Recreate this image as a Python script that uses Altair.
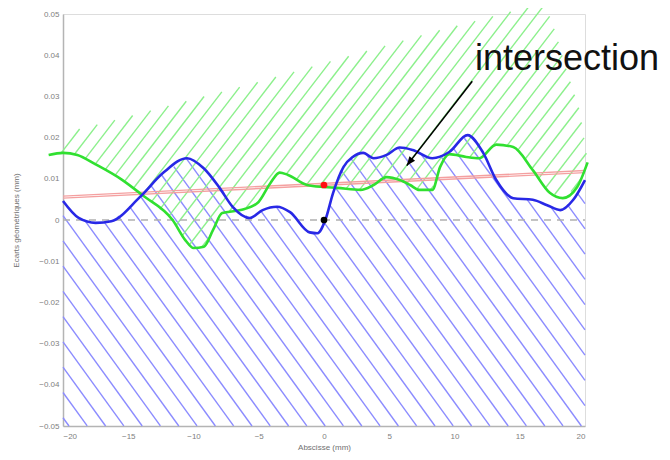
import altair as alt
import numpy as np
import pandas as pd

# ---------------- data ----------------
blue_x = [-20, -18.8, -17.5, -16.3, -14.1, -12.3, -10.5, -9.2, -8.0, -7.0, -5.7, -4.7,
          -3.6, -2.6, -1.1, -0.5, 0.1, 0.7, 1.5, 2.2, 3.0, 3.8, 4.8, 5.8, 6.8, 8.3,
          9.6, 11.0, 12.2, 13.2, 14.5, 16.0, 17.1, 18.1, 19.1, 20.0]
blue_y = [0.0046, 0.0005, -0.0007, -0.0003, 0.0056, 0.0115, 0.0150, 0.0125, 0.0078, 0.0032,
          0.0005, 0.0024, 0.0032, 0.0019, -0.0030, -0.0032, 0.0000, 0.0066, 0.0129, 0.0153,
          0.0163, 0.0150, 0.0158, 0.0176, 0.0170, 0.0150, 0.0165, 0.0206, 0.0163, 0.0097,
          0.0053, 0.0049, 0.0036, 0.0024, 0.0049, 0.0097]

green_x = [-21.1, -20.0, -18.9, -17.5, -15.5, -13.9, -11.6, -10.6, -10.0, -9.2, -8.5, -7.8,
           -6.4, -5.1, -4.1, -3.4, -2.8, -1.3, 0.0, 1.0, 2.8, 3.8, 4.8, 5.8, 6.6, 7.3, 8.3,
           8.9, 9.6, 10.9, 11.9, 13.2, 14.5, 16.0, 17.3, 18.3, 19.4, 20.2]
green_y = [0.0158, 0.0163, 0.0158, 0.0135, 0.0098, 0.0060, 0.0000, -0.0050, -0.0068, -0.0065,
           -0.0024, 0.0017, 0.0024, 0.0041, 0.0090, 0.0115, 0.0110, 0.0085, 0.0080, 0.0078,
           0.0073, 0.0085, 0.0104, 0.0097, 0.0085, 0.0073, 0.0073, 0.0129, 0.0160, 0.0153,
           0.0150, 0.0183, 0.0177, 0.0121, 0.0066, 0.0053, 0.0080, 0.0140]

# upper edge of the green hatched zone
green_top_x = [-21.1, -20.0, -16.0, -6.4, 8.9, 16.9, 17.7, 18.6, 19.6, 20.2]
green_top_y = [0.0158, 0.0211, 0.0243, 0.0323, 0.0461, 0.0527, 0.0461, 0.0364, 0.0267, 0.0146]

red_x = [-20, 20]
red_y_a = [0.0053, 0.0115]
red_y_b = [0.0058, 0.0120]

zero_x = [-20, 20]
zero_y = [0.0, 0.0]

dot_x = [0.0, 0.0]
dot_y = [0.0085, 0.0]
dot_color = ["#ff1010", "#000000"]

arrow_x = [11.36, 6.34]
arrow_y = [0.0337, 0.0132]

label_text = ["intersection"]
label_x = [11.57]
label_y = [0.0364]

x_ticks = [-20, -15, -10, -5, 0, 5, 10, 15, 20]
y_ticks = [-0.05, -0.04, -0.03, -0.02, -0.01, 0, 0.01, 0.02, 0.03, 0.04, 0.05]

# ---------------- geometry helpers ----------------
W, H = 522, 412
XD = [-20, 20]
YD = [-0.05, 0.05]
sx = W / (XD[1] - XD[0])
sy = H / (YD[1] - YD[0])


def hatch(xlo, xhi, lower_fn, upper_fn, slope, hspace, phase):
    u = np.arange((xlo - XD[0]) * sx, (xhi - XD[0]) * sx + 1e-6, 0.2)
    xx = XD[0] + u / sx
    lo = (lower_fn(xx) - YD[0]) * sy
    hi = (upper_fn(xx) - YD[0]) * sy
    rows = []
    for k in range(-120, 160):
        a = phase + k * hspace
        v = slope * (u - a)
        inside = (v >= lo) & (v <= hi)
        if not inside.any():
            continue
        d = np.diff(np.concatenate([[0], inside.astype(int), [0]]))
        starts = np.where(d == 1)[0]
        ends = np.where(d == -1)[0] - 1
        for s, e in zip(starts, ends):
            if e <= s:
                continue
            rows.append({
                "x": XD[0] + u[s] / sx, "y": YD[0] + v[s] / sy,
                "x2": XD[0] + u[e] / sx, "y2": YD[0] + v[e] / sy,
            })
    return pd.DataFrame(rows)


bx, by = np.array(blue_x), np.array(blue_y)
gx, gy = np.array(green_x), np.array(green_y)
tx, ty = np.array(green_top_x), np.array(green_top_y)

blue_hatch = hatch(-20, 20, lambda x: np.full_like(x, YD[0]),
                   lambda x: np.interp(x, bx, by), -1.38, 18.3, 6.0)
green_hatch = hatch(-21.1, 20.2, lambda x: np.interp(x, gx, gy),
                    lambda x: np.interp(x, tx, ty), 1.3, 14.2, 1.2)

# ---------------- chart ----------------
FONT = "Liberation Sans"
xs = alt.Scale(domain=XD, nice=False, zero=False)
ys = alt.Scale(domain=YD, nice=False, zero=False)

x_axis = alt.Axis(values=x_ticks, format="d", title="Abscisse (mm)", grid=False, ticks=False,
                  domainColor="#b4b4b4", domainWidth=1.5, labelColor="#808080", labelFontSize=8,
                  labelPadding=6, labelFont=FONT, titleFont=FONT, titleFontSize=8,
                  titleFontWeight="normal", titleColor="#707070", titleY=21, titleBaseline="middle")
y_axis = alt.Axis(values=y_ticks, format=".2~f", title="Ecarts géométriques (mm)", grid=False,
                  ticks=False, domainColor="#b4b4b4", domainWidth=1.5, labelColor="#808080",
                  labelFontSize=8, labelPadding=4, labelFont=FONT, titleFont=FONT, titleFontSize=8,
                  titleFontWeight="normal", titleColor="#707070", titleAngle=-90, titleX=-47,
                  titleY=H / 2, titleAlign="center", titleBaseline="middle")


def X(f):
    return alt.X(f, type="quantitative", scale=xs, axis=x_axis)


def Y(f):
    return alt.Y(f, type="quantitative", scale=ys, axis=y_axis)


blue_hatch_layer = alt.Chart(blue_hatch).mark_rule(color="#8c8cff", strokeWidth=1.4).encode(
    x=X("x"), y=Y("y"), x2="x2", y2="y2")
green_hatch_layer = alt.Chart(green_hatch).mark_rule(color="#8cf08c", strokeWidth=1.4).encode(
    x=X("x"), y=Y("y"), x2="x2", y2="y2")

zero_layer = alt.Chart(pd.DataFrame({"x": zero_x, "y": zero_y})).mark_line(
    color="#b0b0b0", strokeWidth=1.5, strokeDash=[7, 6]).encode(x=X("x"), y=Y("y"))

red_df = pd.DataFrame({"x": red_x + red_x, "y": red_y_a + red_y_b,
                       "g": ["a", "a", "b", "b"]})
red_layer = alt.Chart(red_df).mark_line(color="#f4a0a0", strokeWidth=1.4).encode(
    x=X("x"), y=Y("y"), detail="g:N")

green_layer = alt.Chart(pd.DataFrame({"x": green_x, "y": green_y})).mark_line(
    color="#30e030", strokeWidth=2.6, interpolate="monotone").encode(x=X("x"), y=Y("y"))
blue_layer = alt.Chart(pd.DataFrame({"x": blue_x, "y": blue_y})).mark_line(
    color="#2828e6", strokeWidth=2.6, interpolate="monotone").encode(x=X("x"), y=Y("y"))

dots = alt.Chart(pd.DataFrame({"x": dot_x, "y": dot_y, "c": dot_color})).mark_point(
    filled=True, opacity=1, size=45).encode(x=X("x"), y=Y("y"),
                                            color=alt.Color("c:N", scale=None))

arrow_df = pd.DataFrame({"x": [arrow_x[0]], "y": [arrow_y[0]],
                         "x2": [arrow_x[1]], "y2": [arrow_y[1]]})
arrow_line = alt.Chart(arrow_df).mark_rule(color="#000000", strokeWidth=1.6).encode(
    x=X("x"), y=Y("y"), x2="x2", y2="y2")
dxp = (arrow_x[1] - arrow_x[0]) * sx
dyp = -(arrow_y[1] - arrow_y[0]) * sy
ang = float(np.degrees(np.arctan2(dxp, -dyp)) % 360)
arrow_head = alt.Chart(pd.DataFrame({"x": [arrow_x[1]], "y": [arrow_y[1]]})).mark_point(
    shape="M0,0L0.8,2L-0.8,2Z", filled=True, opacity=1, color="#000000", size=81,
    angle=ang).encode(x=X("x"), y=Y("y"))

label = alt.Chart(pd.DataFrame({"x": label_x, "y": label_y, "t": label_text})).mark_text(
    align="left", baseline="alphabetic", font=FONT, fontSize=36, color="#111111").encode(
    x=X("x"), y=Y("y"), text="t:N")

chart = alt.layer(
    blue_hatch_layer, green_hatch_layer, zero_layer, red_layer, green_layer, blue_layer,
    dots, arrow_line, arrow_head, label
).properties(
    width=W, height=H,
    autosize=alt.AutoSizeParams(type="none"),
    padding={"left": 55, "top": 6, "right": 77, "bottom": 26},
).configure_view(stroke=None).configure(background="white")

chart.save("out.html", embed_options={"renderer": "svg", "actions": False})
